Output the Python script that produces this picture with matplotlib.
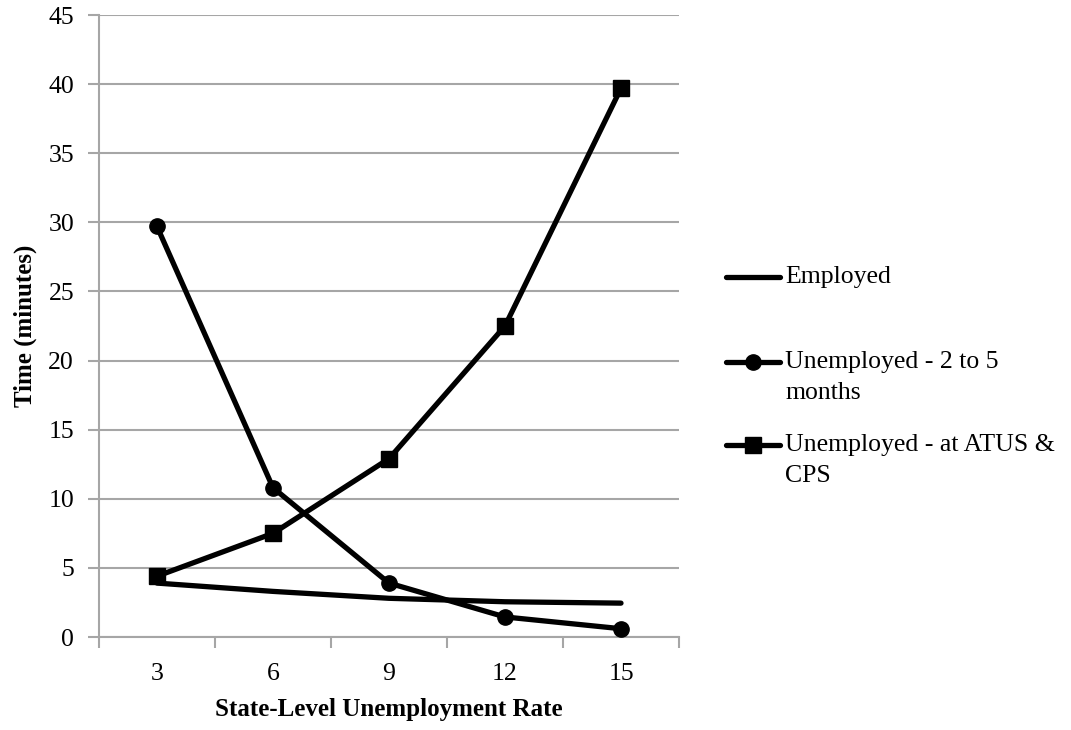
import numpy as np
import matplotlib.pyplot as plt
from matplotlib.lines import Line2D

plt.rcParams['font.family'] = ['Liberation Serif', 'DejaVu Serif']

# data
rates = [3, 6, 9, 12, 15]
employed = [3.9, 3.3, 2.8, 2.55, 2.45]
unemp_2to5 = [29.7, 10.8, 3.9, 1.45, 0.6]
unemp_atus = [4.4, 7.5, 12.9, 22.5, 39.7]
y_ticks = np.arange(0, 50, 5)

grid_col = '#a6a6a6'

fig = plt.figure(figsize=(10.71, 7.30), dpi=100)
ax = fig.add_axes([99/1071, 93/730, 580/1071, 622/730])

lw = 3.8
ax.plot(rates, employed, color='black', lw=lw, solid_capstyle='round', zorder=3)
ax.plot(rates, unemp_2to5, color='black', lw=lw, marker='o', ms=11, zorder=3)
ax.plot(rates, unemp_atus, color='black', lw=lw, marker='s', ms=11, zorder=3)

ax.set_xlim(1.5, 16.5)
ax.set_ylim(0, 45)
ax.set_yticks(y_ticks)
ax.set_xticks(rates)
ax.set_xticks(np.arange(1.5, 17, 3), minor=True)
ax.tick_params(axis='x', which='major', length=0, pad=19, labelsize=18.5)
ax.tick_params(axis='x', which='minor', length=8, width=1.5, color=grid_col, direction='out')
ax.tick_params(axis='y', length=8, width=1.5, color=grid_col, pad=10, labelsize=18.5)
ax.grid(axis='y', color=grid_col, lw=1.5, zorder=0)
for s in ['top', 'right']:
    ax.spines[s].set_visible(False)
for s in ['left', 'bottom']:
    ax.spines[s].set_color(grid_col)
    ax.spines[s].set_linewidth(1.5)

ax.set_xlabel('State-Level Unemployment Rate', fontsize=18, fontweight='bold', labelpad=9)
ax.set_ylabel('Time (minutes)', fontsize=18, fontweight='bold', labelpad=8)

# legend drawn by hand to match the Excel layout
entries = [('Employed', None, 277),
           ('Unemployed - 2 to 5\nmonths', 'o', 362),
           ('Unemployed - at ATUS &\nCPS', 's', 445)]
for label, mk, ypx in entries:
    yf = 1 - ypx / 730
    fig.add_artist(Line2D([726/1071, 780/1071], [yf, yf], color='black', lw=lw,
                          solid_capstyle='round', transform=fig.transFigure))
    if mk:
        fig.add_artist(Line2D([753/1071], [yf], marker=mk, ms=11, color='black',
                              transform=fig.transFigure))
    fig.text(785/1071, yf + 11/730, label, fontsize=18.5, va='top', ha='left',
             transform=fig.transFigure, linespacing=1.5)

fig.savefig('out.png', dpi=100)
